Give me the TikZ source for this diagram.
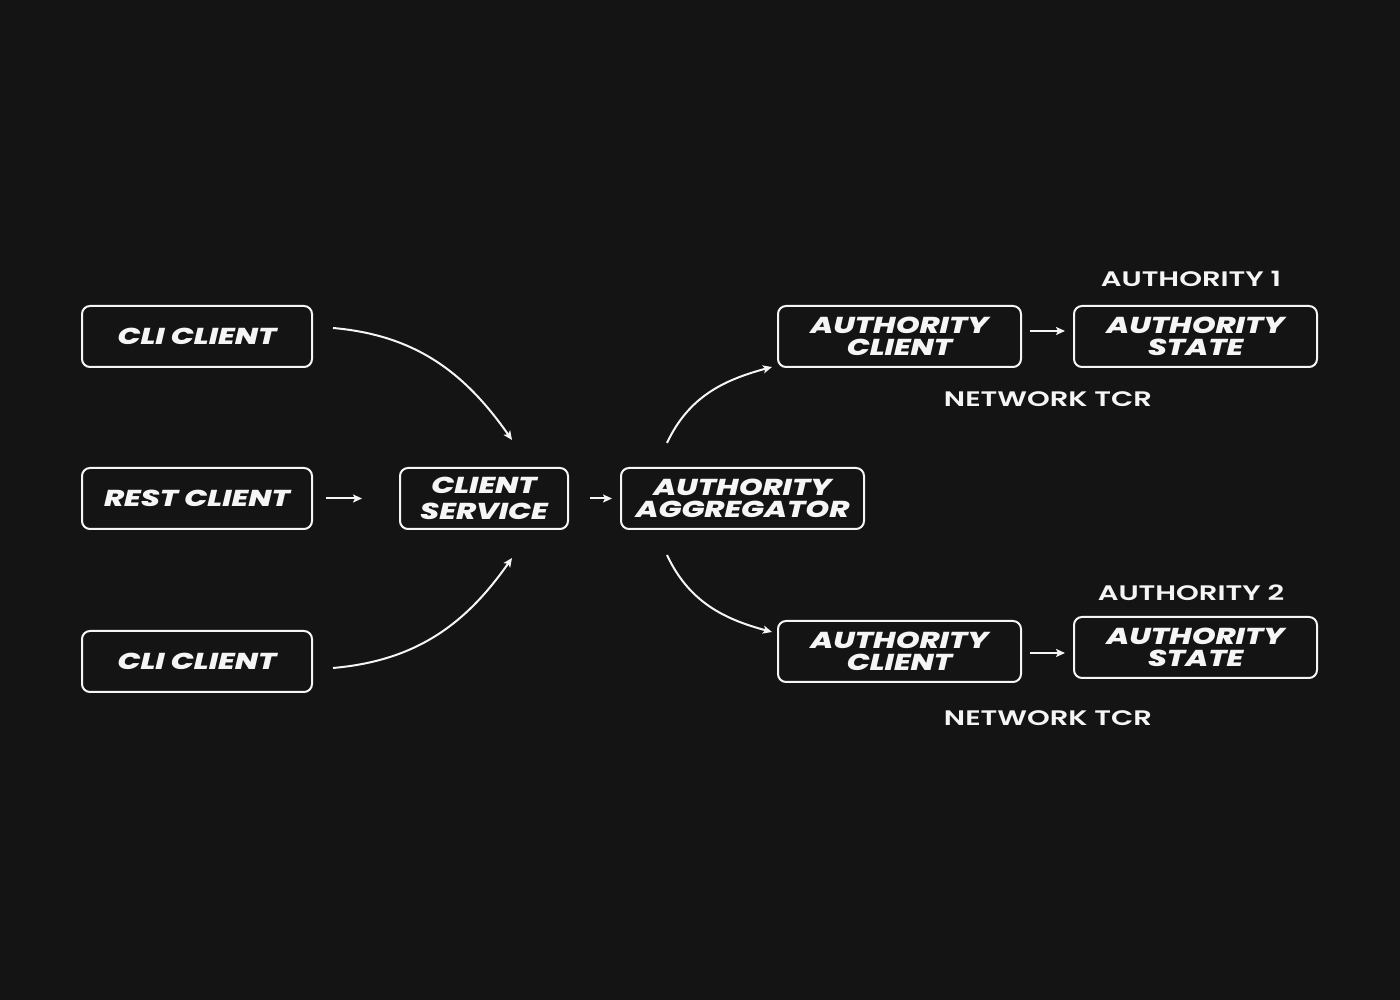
\documentclass[tikz,border=0pt]{standalone}
\usepackage{fontspec}
\usetikzlibrary{arrows.meta}
\newfontfamily\boxfont{Poppins ExtraBold Italic}[FakeStretch=1.32]
\newfontfamily\labfont{Poppins SemiBold}[FakeStretch=1.38]
\definecolor{bg}{RGB}{20,20,20}
\definecolor{fg}{RGB}{245,245,245}
\begin{document}
\begin{tikzpicture}[x=1pt,y=1pt,
  box/.style={draw=fg, line width=2pt, rounded corners=8pt, fill=bg, text=fg,
    inner sep=0pt, align=center, font=\boxfont\fontsize{23}{22}\selectfont},
  lab/.style={text=fg, inner sep=0pt, font=\labfont\fontsize{21}{22}\selectfont},
  arr/.style={draw=fg, line width=2pt, -{Stealth[length=9pt,width=8pt,inset=2pt]}}]
\fill[bg] (0,0) rectangle (1400,1000);
\useasboundingbox (0,0) rectangle (1400,1000);
% nodes
\node[box, minimum width=230pt, minimum height=61pt] (cli1) at (197,663.5) {CLI\ CLIENT};
\node[box, minimum width=230pt, minimum height=61pt] (rest) at (197,501.5) {REST\ CLIENT};
\node[box, minimum width=230pt, minimum height=61pt] (cli2) at (197,338.5) {CLI\ CLIENT};
\node[box, minimum width=168pt, minimum height=61pt, font=\boxfont\fontsize{23}{26}\selectfont] (cs) at (484,501.5) {CLIENT\\SERVICE};
\node[box, minimum width=243pt, minimum height=61pt] (agg) at (742.5,501.5) {AUTHORITY\\AGGREGATOR};
\node[box, minimum width=243pt, minimum height=61pt] (ac1) at (899.5,663.5) {AUTHORITY\\CLIENT};
\node[box, minimum width=243pt, minimum height=61pt] (as1) at (1195.5,663.5) {AUTHORITY\\STATE};
\node[box, minimum width=243pt, minimum height=61pt] (ac2) at (899.5,348.5) {AUTHORITY\\CLIENT};
\node[box, minimum width=243pt, minimum height=61pt] (as2) at (1195.5,352.5) {AUTHORITY\\STATE};
% labels
\node[lab] (auth1) at (1191,721) {AUTHORITY 1};
\node[lab] (net1) at (1048,601) {NETWORK TCR};
\node[lab] (auth2) at (1191,407) {AUTHORITY 2};
\node[lab] (net2) at (1048,282) {NETWORK TCR};
% connector endpoints
\coordinate (c1s) at (333,672);
\coordinate (c1e) at (512,560);
\coordinate (c2s) at (333,332);
\coordinate (c2e) at (512,442);
\coordinate (g1s) at (667,557);
\coordinate (g1e) at (772,633);
\coordinate (g2s) at (667,445);
\coordinate (g2e) at (772,368);
% connectors
\draw[arr] (c1s) to[out=-5,in=125] (c1e);
\draw[arr] (c2s) to[out=5,in=235] (c2e);
\draw[arr, shorten <=13pt, shorten >=37pt] (rest.east) -- (cs.west);
\draw[arr, shorten <=21pt, shorten >=8pt] (cs.east) -- (agg.west);
\draw[arr] (g1s) to[out=65,in=195] (g1e);
\draw[arr] (g2s) to[out=-65,in=165] (g2e);
\draw[arr, shorten <=8pt, shorten >=8pt] ([yshift=5.5pt]ac1.east) -- ([yshift=5.5pt]as1.west);
\draw[arr, shorten <=8pt, shorten >=8pt] ([yshift=-1.5pt]ac2.east) -- ([yshift=-5.5pt]as2.west);
\end{tikzpicture}
\end{document}
